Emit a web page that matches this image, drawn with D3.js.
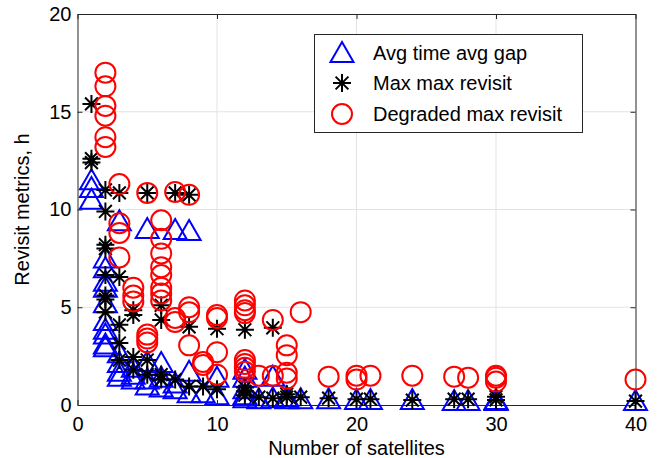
<!DOCTYPE html>
<html>
<head>
<meta charset="utf-8">
<script src="https://cdn.jsdelivr.net/npm/d3@7"></script>
<style>
  html, body { margin: 0; padding: 0; background: #fff; }
  svg { display: block; font-family: "Liberation Sans", Arial, Helvetica, sans-serif; }
</style>
</head>
<body>
<svg id="chart" width="658" height="458"></svg>
<script>
// Revisit metrics versus number of satellites, one entry per [satellites, hours]
const avgTimeAvgGap = [
  [1, 11.5], [1, 11.1], [1, 10.5],
  [2, 7.5], [2, 7.0], [2, 6.3], [2, 6.0], [2, 5.2], [2, 4.3], [2, 3.85], [2, 3.6], [2, 3.1], [2, 2.95],
  [3, 9.4], [3, 2.65], [3, 2.15], [3, 1.7], [3, 1.45],
  [4, 1.9], [4, 1.55], [4, 1.3],
  [5, 9.0], [5, 2.2], [5, 1.3], [5, 1.0],
  [6, 2.15], [6, 1.4], [6, 0.9],
  [7, 8.95], [7, 1.1], [7, 0.8],
  [8, 8.9], [8, 1.7], [8, 0.6],
  [9, 0.6],
  [10, 1.4], [10, 0.5],
  [12, 1.8], [12, 1.4], [12, 0.8], [12, 0.5], [12, 0.35],
  [13, 0.3],
  [14, 1.45], [14, 0.35],
  [15, 0.4], [15, 0.3],
  [16, 0.3], [18, 0.3], [20, 0.25], [21, 0.25], [24, 0.25],
  [27, 0.2], [28, 0.2], [30, 0.2], [30, 0.25], [40, 0.2]
];

const maxMaxRevisit = [
  [1, 15.4], [1, 12.6], [1, 12.4],
  [2, 11.0], [2, 9.9], [2, 8.2], [2, 8.0], [2, 6.65], [2, 5.6], [2, 5.4], [2, 4.75],
  [3, 10.85], [3, 6.55], [3, 4.1], [3, 3.17], [3, 2.3],
  [4, 4.85], [4, 4.6], [4, 2.45], [4, 1.8],
  [5, 10.85], [5, 2.3], [5, 1.55],
  [6, 5.1], [6, 4.35], [6, 1.55], [6, 1.3],
  [7, 10.85], [7, 1.3],
  [8, 10.75], [8, 4.0], [8, 0.95],
  [9, 0.95],
  [10, 3.9], [10, 0.8],
  [12, 3.85], [12, 0.9], [12, 0.7], [12, 0.5],
  [13, 0.4],
  [14, 3.95], [14, 0.35],
  [15, 0.55], [15, 0.4],
  [16, 0.4], [18, 0.35], [20, 0.3], [21, 0.3], [24, 0.25],
  [27, 0.3], [28, 0.3], [30, 0.42], [30, 0.26], [40, 0.2]
];

const degradedMaxRevisit = [
  [2, 17.0], [2, 16.3], [2, 15.3], [2, 14.8], [2, 13.7], [2, 13.2],
  [3, 11.3], [3, 9.3], [3, 8.8], [3, 7.55],
  [4, 6.0], [4, 5.6], [4, 5.3],
  [5, 10.85], [5, 3.6], [5, 3.4], [5, 3.2],
  [6, 9.45], [6, 8.5], [6, 7.75], [6, 7.05], [6, 6.65], [6, 6.0], [6, 5.7], [6, 5.35],
  [7, 10.9], [7, 4.45], [7, 4.25],
  [8, 10.75], [8, 5.0], [8, 4.75], [8, 3.05],
  [9, 2.2], [9, 2.05],
  [10, 4.6], [10, 4.45], [10, 2.7], [10, 1.55],
  [12, 5.35], [12, 5.1], [12, 4.85], [12, 4.7], [12, 2.3], [12, 2.1], [12, 1.9], [12, 1.7],
  [13, 1.5],
  [14, 4.35], [14, 1.5],
  [15, 3.05], [15, 2.55], [15, 1.65], [15, 1.35],
  [16, 4.75], [18, 1.45], [20, 1.5], [20, 1.3], [21, 1.5], [24, 1.5],
  [27, 1.45], [28, 1.4], [30, 1.5], [30, 1.4], [30, 1.2], [40, 1.3]
];

const xTicks = [0, 10, 20, 30, 40];
const yTicks = [0, 5, 10, 15, 20];
const seriesNames = ["Avg time avg gap", "Max max revisit", "Degraded max revisit"];
const xLabel = "Number of satellites";
const yLabel = "Revisit metrics, h";

const svg = d3.select("#chart");
const plotLeft = 77.5, plotRight = 635.5, plotTop = 14, plotBottom = 405;
const fontSize = 20;

const x = d3.scaleLinear().domain([0, 40]).range([plotLeft, plotRight]);
const y = d3.scaleLinear().domain([0, 20]).range([plotBottom, plotTop]);

// grid
const grid = svg.append("g").attr("stroke", "#e3e3e3").attr("stroke-width", 1);
xTicks.slice(1, -1).forEach(t => {
  grid.append("line").attr("x1", x(t)).attr("x2", x(t)).attr("y1", plotTop).attr("y2", plotBottom);
});
yTicks.slice(1, -1).forEach(t => {
  grid.append("line").attr("x1", plotLeft).attr("x2", plotRight).attr("y1", y(t)).attr("y2", y(t));
});

// axes with inward ticks on all four sides
const tickLen = 5;
const axisColor = "#262626";
svg.append("g").attr("transform", `translate(0,${plotBottom})`)
  .call(d3.axisBottom(x).tickValues(xTicks).tickSizeInner(-tickLen).tickSizeOuter(0).tickPadding(12))
  .call(g => g.select(".domain").attr("stroke", axisColor))
  .call(g => g.selectAll("line").attr("stroke", axisColor))
  .call(g => g.selectAll("text").attr("font-size", fontSize).attr("fill", "#000")
    .attr("font-family", "'Liberation Sans', Arial, sans-serif"));
svg.append("g").attr("transform", `translate(0,${plotTop})`)
  .call(d3.axisTop(x).tickValues(xTicks).tickSizeInner(-tickLen).tickSizeOuter(0).tickFormat(""))
  .call(g => g.select(".domain").attr("stroke", axisColor))
  .call(g => g.selectAll("line").attr("stroke", axisColor));
svg.append("g").attr("transform", `translate(${plotLeft},0)`)
  .call(d3.axisLeft(y).tickValues(yTicks).tickSizeInner(-tickLen).tickSizeOuter(0).tickPadding(6))
  .call(g => g.select(".domain").attr("stroke", axisColor))
  .call(g => g.selectAll("line").attr("stroke", axisColor))
  .call(g => g.selectAll("text").attr("font-size", fontSize).attr("fill", "#000")
    .attr("font-family", "'Liberation Sans', Arial, sans-serif"));
svg.append("g").attr("transform", `translate(${plotRight},0)`)
  .call(d3.axisRight(y).tickValues(yTicks).tickSizeInner(-tickLen).tickSizeOuter(0).tickFormat(""))
  .call(g => g.select(".domain").attr("stroke", axisColor))
  .call(g => g.selectAll("line").attr("stroke", axisColor));

// marker shapes
const triPath = "M0,-11 L11.5,9 L-11.5,9 Z";
const starPath = "M-9,0 L9,0 M0,-9 L0,9 M-6.4,-6.4 L6.4,6.4 M-6.4,6.4 L6.4,-6.4";

function drawTriangles(g, data) {
  g.selectAll("path.tri").data(data).join("path")
    .attr("class", "tri")
    .attr("d", triPath)
    .attr("transform", d => `translate(${x(d[0])},${y(d[1])})`)
    .attr("fill", "none").attr("stroke", "#0000ff").attr("stroke-width", 2);
}
function drawStars(g, data) {
  g.selectAll("path.star").data(data).join("path")
    .attr("class", "star")
    .attr("d", starPath)
    .attr("transform", d => `translate(${x(d[0])},${y(d[1])})`)
    .attr("fill", "none").attr("stroke", "#000").attr("stroke-width", 2);
}
function drawCircles(g, data) {
  g.selectAll("circle.deg").data(data).join("circle")
    .attr("class", "deg")
    .attr("cx", d => x(d[0])).attr("cy", d => y(d[1])).attr("r", 10)
    .attr("fill", "none").attr("stroke", "#ff0000").attr("stroke-width", 2);
}

const marks = svg.append("g");
drawTriangles(marks.append("g"), avgTimeAvgGap);
drawStars(marks.append("g"), maxMaxRevisit);
drawCircles(marks.append("g"), degradedMaxRevisit);

// axis labels
svg.append("text")
  .attr("x", (plotLeft + plotRight) / 2).attr("y", 455)
  .attr("text-anchor", "middle").attr("font-size", fontSize).attr("fill", "#000")
  .text(xLabel);
svg.append("text")
  .attr("transform", `translate(29,${(plotTop + plotBottom) / 2}) rotate(-90)`)
  .attr("text-anchor", "middle").attr("font-size", fontSize).attr("fill", "#000")
  .text(yLabel);

// legend
const lg = svg.append("g");
lg.append("rect").attr("x", 314.5).attr("y", 34.5).attr("width", 268).attr("height", 98)
  .attr("fill", "#fff").attr("stroke", "#262626").attr("stroke-width", 1);
const rows = [53, 83, 114];
lg.append("path").attr("d", triPath).attr("transform", `translate(342,${rows[0]})`)
  .attr("fill", "none").attr("stroke", "#0000ff").attr("stroke-width", 2);
lg.append("path").attr("d", starPath).attr("transform", `translate(342,${rows[1]})`)
  .attr("fill", "none").attr("stroke", "#000").attr("stroke-width", 2);
lg.append("circle").attr("cx", 342).attr("cy", rows[2]).attr("r", 10)
  .attr("fill", "none").attr("stroke", "#ff0000").attr("stroke-width", 2);
seriesNames.forEach((name, i) => {
  lg.append("text").attr("x", 373).attr("y", rows[i]).attr("dy", "0.35em")
    .attr("font-size", fontSize).attr("fill", "#000").text(name);
});
</script>
</body>
</html>
